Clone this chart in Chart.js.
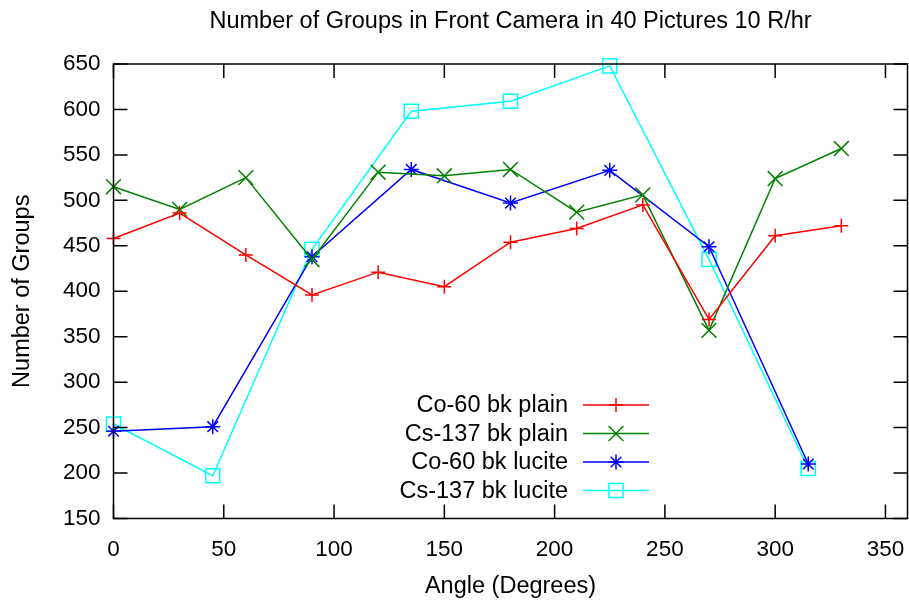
<!DOCTYPE html>
<html>
<head>
<meta charset="utf-8">
<script src="https://cdn.jsdelivr.net/npm/chart.js@4"></script>
<style>
    html, body { margin: 0; padding: 0; background: #fff; }
    #wrap { width: 909px; height: 601px; }
</style>
</head>
<body>
<div id="wrap"><canvas id="chart"></canvas></div>
<script>
const anglesPlain = [0, 30, 60, 90, 120, 150, 180, 210, 240, 270, 300, 330];
const anglesLucite = [0, 45, 90, 135, 180, 225, 270, 315];
const co60Plain = [458, 486, 440, 396, 421, 405, 454, 469, 495, 369, 461, 472];
const cs137Plain = [515, 490, 525, 435, 531, 527, 534, 487, 506, 357, 524, 557];
const co60Lucite = [246, 251, 438, 534, 497, 533, 449, 210];
const cs137Lucite = [254, 197, 446, 598, 609, 648, 435, 205];
const xTicks = [0, 50, 100, 150, 200, 250, 300, 350];
const yTicks = [150, 200, 250, 300, 350, 400, 450, 500, 550, 600, 650];

const FONT = "'Liberation Sans', Arial, sans-serif";

function toPoints(xs, ys) {
    return xs.map((x, i) => ({ x: x, y: ys[i] }));
}

function series(label, xs, ys, color, style, radius) {
    return {
        label: label,
        data: toPoints(xs, ys),
        borderColor: color,
        backgroundColor: "rgba(0,0,0,0)",
        borderWidth: 1.5,
        pointStyle: style,
        pointRadius: radius,
        pointHoverRadius: radius,
        pointBorderColor: color,
        pointBackgroundColor: "rgba(0,0,0,0)",
        pointBorderWidth: 1.5,
        tension: 0,
        clip: false
    };
}

// gnuplot-like frame with inward ticks on all four sides
const framePlugin = {
    id: "frame",
    afterDatasetsDraw(chart) {
        const ctx = chart.ctx;
        const a = chart.chartArea;
        const len = 14;
        ctx.save();
        ctx.strokeStyle = "#000";
        ctx.lineWidth = 1.5;
        ctx.strokeRect(a.left, a.top, a.right - a.left, a.bottom - a.top);
        ctx.beginPath();
        chart.scales.x.ticks.forEach(t => {
            const px = chart.scales.x.getPixelForValue(t.value);
            ctx.moveTo(px, a.bottom); ctx.lineTo(px, a.bottom - len);
            ctx.moveTo(px, a.top); ctx.lineTo(px, a.top + len);
        });
        chart.scales.y.ticks.forEach(t => {
            const py = chart.scales.y.getPixelForValue(t.value);
            ctx.moveTo(a.left, py); ctx.lineTo(a.left + len, py);
            ctx.moveTo(a.right, py); ctx.lineTo(a.right - len, py);
        });
        ctx.stroke();
        ctx.restore();
    }
};

// key inside the plot, text right-aligned, sample line with marker
const keyPlugin = {
    id: "key",
    afterDatasetsDraw(chart) {
        const ctx = chart.ctx;
        const textRight = 568, lineL = 583, lineR = 649, rowTop = 405, rowGap = 28.5;
        ctx.save();
        ctx.font = "23.5px " + FONT;
        ctx.textAlign = "right";
        ctx.textBaseline = "middle";
        chart.data.datasets.forEach((ds, i) => {
            const y = rowTop + i * rowGap;
            ctx.fillStyle = "#000";
            ctx.fillText(ds.label, textRight, y + 1);
            ctx.strokeStyle = ds.borderColor;
            ctx.lineWidth = ds.borderWidth;
            ctx.beginPath();
            ctx.moveTo(lineL, y); ctx.lineTo(lineR, y);
            ctx.stroke();
            ctx.fillStyle = "rgba(0,0,0,0)";
            Chart.helpers.drawPoint(ctx, {
                pointStyle: ds.pointStyle,
                radius: ds.pointRadius,
                rotation: 0,
                borderWidth: ds.pointBorderWidth
            }, (lineL + lineR) / 2, y);
        });
        ctx.restore();
    }
};

Chart.defaults.font.family = FONT;
Chart.defaults.color = "#000";

new Chart(document.getElementById("chart"), {
    type: "line",
    data: {
        datasets: [
            series("Co-60 bk plain", anglesPlain, co60Plain, "#ff0000", "cross", 7),
            series("Cs-137 bk plain", anglesPlain, cs137Plain, "#008000", "crossRot", 10.5),
            series("Co-60 bk lucite", anglesLucite, co60Lucite, "#0000ff", "star", 7.5),
            series("Cs-137 bk lucite", anglesLucite, cs137Lucite, "#00ffff", "rect", 10)
        ]
    },
    options: {
        responsive: true,
        maintainAspectRatio: false,
        animation: false,
        layout: { autoPadding: false, padding: { left: 0, right: 1.5, top: 0, bottom: 0 } },
        plugins: {
            legend: { display: false },
            tooltip: { enabled: false },
            title: {
                display: true,
                fullSize: false,
                text: "Number of Groups in Front Camera in 40 Pictures 10 R/hr",
                font: { size: 23.5, weight: "normal" },
                color: "#000",
                padding: { top: 7, bottom: 28.8 }
            }
        },
        scales: {
            x: {
                type: "linear",
                min: 0,
                max: 360,
                afterFit: s => { s.height = 82.5; s.paddingLeft = 0; s.paddingRight = 0; },
                afterBuildTicks: s => { s.ticks = xTicks.map(v => ({ value: v })); },
                grid: { display: false, drawTicks: false },
                border: { display: false },
                ticks: { font: { size: 22.5 }, padding: 18, maxRotation: 0 },
                title: {
                    display: true,
                    text: "Angle (Degrees)",
                    font: { size: 23.5 },
                    padding: { top: 0, bottom: 0 }
                }
            },
            y: {
                type: "linear",
                min: 150,
                max: 650,
                afterFit: s => { s.width = 113.5; },
                afterBuildTicks: s => { s.ticks = yTicks.map(v => ({ value: v })); },
                grid: { display: false, drawTicks: false },
                border: { display: false },
                ticks: { font: { size: 22.5 }, padding: 13 },
                title: {
                    display: true,
                    text: "Number of Groups",
                    font: { size: 23.5 },
                    padding: { top: 8, bottom: 0 }
                }
            }
        }
    },
    plugins: [framePlugin, keyPlugin]
});
</script>
</body>
</html>
